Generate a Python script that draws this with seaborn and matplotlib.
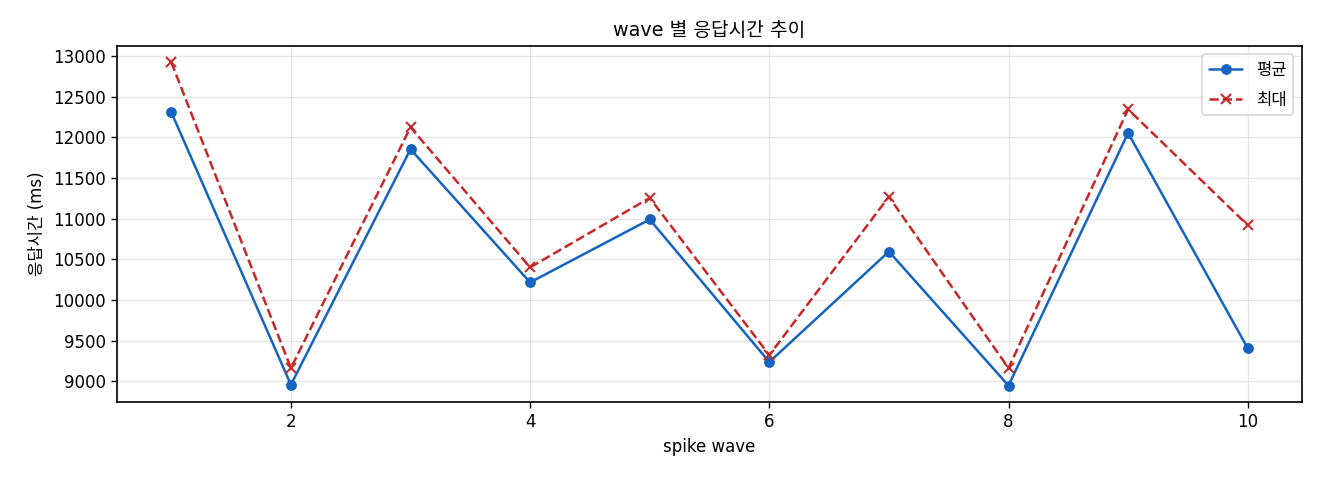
import matplotlib
matplotlib.use("Agg")
import matplotlib.pyplot as plt
import seaborn as sns
import pandas as pd

waves = [1, 2, 3, 4, 5, 6, 7, 8, 9, 10]
mean_ms = [12310, 8955, 11855, 10215, 10990, 9235, 10595, 8945, 12055, 9405]
max_ms = [12925, 9160, 12125, 10400, 11255, 9320, 11270, 9160, 12345, 10920]

sns.set_theme(style="ticks")
plt.rcParams['font.family'] = ['DejaVu Sans', 'Noto Sans CJK KR']
plt.rcParams['axes.unicode_minus'] = False
for k in ['text.color', 'axes.labelcolor', 'xtick.color', 'ytick.color']:
    plt.rcParams[k] = 'black'

df = pd.DataFrame({"wave": waves, "mean": mean_ms, "max": max_ms})

fig, ax = plt.subplots(figsize=(11, 4), dpi=120)
sns.lineplot(data=df, x="wave", y="mean", ax=ax, color="#1565C0", marker="o",
             markersize=6.5, markeredgewidth=0, linewidth=1.5, label="평균")
sns.lineplot(data=df, x="wave", y="max", ax=ax, color="#C62828", marker="x",
             markersize=6, markeredgewidth=1.2, markeredgecolor="#C62828",
             linewidth=1.5, linestyle="--", label="최대")

ax.set_title("wave 별 응답시간 추이", fontsize=11.5)
ax.set_xlabel("spike wave", fontsize=10)
ax.set_ylabel("응답시간 (ms)", fontsize=10)
ax.grid(True, color="#b0b0b0", alpha=0.3, linewidth=0.8)
for s in ax.spines.values():
    s.set_color("black")
    s.set_linewidth(1.0)
ax.tick_params(labelsize=10, color="black", length=3.5, width=0.8)
ax.legend(loc="upper right", fontsize=10, labelspacing=0.7)
fig.subplots_adjust(left=0.089, right=0.986, top=0.904, bottom=0.163)
fig.savefig("out.png", dpi=120)
